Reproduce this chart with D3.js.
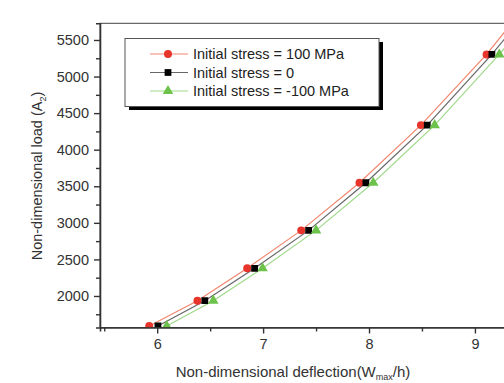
<!DOCTYPE html>
<html>
<head>
<meta charset="utf-8">
<script src="https://cdn.jsdelivr.net/npm/d3@7"></script>
<style>
  body { margin: 0; background: #fff; }
  svg { font-family: "Liberation Sans", Arial, sans-serif; }
</style>
</head>
<body>
<script>
let width = 504;
let height = 383;

// load values (shared by all three series)
const loads = [1590, 1936, 2378, 2897, 3548, 4336, 5302, 6400];
// deflection for each initial stress
const deflPos100 = [5.925, 6.38, 6.85, 7.36, 7.91, 8.49, 9.11, 9.72];
const deflZero   = [6.007, 6.45, 6.92, 7.43, 7.97, 8.55, 9.16, 9.78];
const deflNeg100 = [6.09, 6.53, 6.995, 7.5, 8.04, 8.62, 9.23, 9.85];

const seriesNames = ['Initial stress = 100 MPa', 'Initial stress = 0', 'Initial stress = -100 MPa'];
const xMajor = [6, 7, 8, 9];
const xMinor = [5.5, 6.5, 7.5, 8.5, 9.5];
const yMajor = [2000, 2500, 3000, 3500, 4000, 4500, 5000, 5500];
const yMinor = [1750, 2250, 2750, 3250, 3750, 4250, 4750, 5250];

const series = [
  {name: seriesNames[0], x: deflPos100, color: '#e8352b', line: '#f2866e', shape: 'circle'},
  {name: seriesNames[1], x: deflZero, color: '#000', line: '#666', shape: 'square'},
  {name: seriesNames[2], x: deflNeg100, color: '#6cc24a', line: '#9fd98a', shape: 'triangle'}
];

const pLeft = 100, pRight = 530, pTop = 23.3, pBottom = 327.5;

const x = d3.scaleLinear().domain([5.46, 9.52]).range([pLeft, pRight]);
const y = d3.scaleLinear().domain([1569, 5728]).range([pBottom, pTop]);

const svg = d3.select('body')
  .append('svg')
  .attr('width', width)
  .attr('height', height);

svg.append('defs').append('clipPath').attr('id', 'clip')
  .append('rect')
    .attr('x', pLeft).attr('y', pTop)
    .attr('width', pRight - pLeft).attr('height', pBottom - pTop);

// frame
svg.append('rect')
  .attr('x', pLeft).attr('y', pTop)
  .attr('width', pRight - pLeft).attr('height', pBottom - pTop)
  .attr('fill', 'none')
  .attr('stroke', '#444')
  .attr('stroke-width', 1);

function symbolFor(shape) {
  if (shape === 'circle') return d3.symbol(d3.symbolCircle, 50)();
  if (shape === 'square') return d3.symbol(d3.symbolSquare, 46)();
  return d3.symbol(d3.symbolTriangle, 48)();
}

const plot = svg.append('g').attr('clip-path', 'url(#clip)');

series.forEach(function(s) {
  const pts = loads.map(function(l, i) { return [s.x[i], l]; });
  plot.append('path').datum(pts)
    .attr('d', d3.line().x(d => x(d[0])).y(d => y(d[1])))
    .attr('fill', 'none')
    .attr('stroke', s.line)
    .attr('stroke-width', 1.2);
});
series.forEach(function(s) {
  const pts = loads.map(function(l, i) { return [s.x[i], l]; });
  plot.selectAll(null).data(pts)
    .enter().append('path')
      .attr('transform', d => 'translate(' + x(d[0]) + ',' + y(d[1]) + ')')
      .attr('d', symbolFor(s.shape))
      .attr('fill', s.color);
});

// axes
function styleAxis(g) {
  g.selectAll('.domain').attr('stroke', '#333').attr('stroke-width', 1.6);
  g.selectAll('.tick line').attr('stroke', '#333').attr('stroke-width', 1.4);
  g.selectAll('.tick text').attr('fill', '#333').style('font-size', '14.5px');
}

const gx = svg.append('g').attr('transform', 'translate(0,' + pBottom + ')')
  .call(d3.axisBottom(x).tickValues(xMajor).tickSize(6).tickPadding(5).tickFormat(d3.format('d')));
gx.call(styleAxis);
gx.select('.domain').remove();
svg.append('g').attr('transform', 'translate(0,' + pBottom + ')')
  .call(d3.axisBottom(x).tickValues(xMinor).tickSize(4).tickFormat(''))
  .call(styleAxis);

const gy = svg.append('g').attr('transform', 'translate(' + pLeft + ',0)')
  .call(d3.axisLeft(y).tickValues(yMajor).tickSize(6).tickPadding(5).tickFormat(d3.format('d')));
gy.call(styleAxis);
gy.select('.domain').remove();
svg.append('g').attr('transform', 'translate(' + pLeft + ',0)')
  .call(d3.axisLeft(y).tickValues(yMinor).tickSize(4).tickFormat(''))
  .call(styleAxis);

// axis titles
const xt = svg.append('text')
  .attr('x', 293).attr('y', 377)
  .attr('text-anchor', 'middle')
  .attr('fill', '#333')
  .style('font-size', '15px');
xt.append('tspan').text('Non-dimensional deflection(W');
xt.append('tspan').attr('dy', 3).style('font-size', '9px').text('max');
xt.append('tspan').attr('dy', -3).text('/h)');

const yt = svg.append('text')
  .attr('transform', 'translate(42,176) rotate(-90)')
  .attr('text-anchor', 'middle')
  .attr('fill', '#333')
  .style('font-size', '14.5px');
yt.append('tspan').text('Non-dimensional load (A');
yt.append('tspan').attr('dy', 4).style('font-size', '9px').text('2');
yt.append('tspan').attr('dy', -4).text(')');

// legend
const lg = svg.append('g');
lg.append('rect')
  .attr('x', 129).attr('y', 42)
  .attr('width', 254).attr('height', 68)
  .attr('fill', '#000');
lg.append('rect')
  .attr('x', 125).attr('y', 38.5)
  .attr('width', 254).attr('height', 68)
  .attr('fill', '#fff')
  .attr('stroke', '#555')
  .attr('stroke-width', 1);

series.forEach(function(s, i) {
  const yy = 54 + i * 18.5;
  lg.append('line')
    .attr('x1', 150).attr('x2', 188)
    .attr('y1', yy).attr('y2', yy)
    .attr('stroke', s.line).attr('stroke-width', 1.2);
  lg.append('path')
    .attr('transform', 'translate(168,' + yy + ')')
    .attr('d', symbolFor(s.shape))
    .attr('fill', s.color);
  lg.append('text')
    .attr('x', 193).attr('y', yy + 5)
    .attr('fill', '#222')
    .style('font-size', '14.5px')
    .text(s.name);
});
</script>
</body>
</html>
